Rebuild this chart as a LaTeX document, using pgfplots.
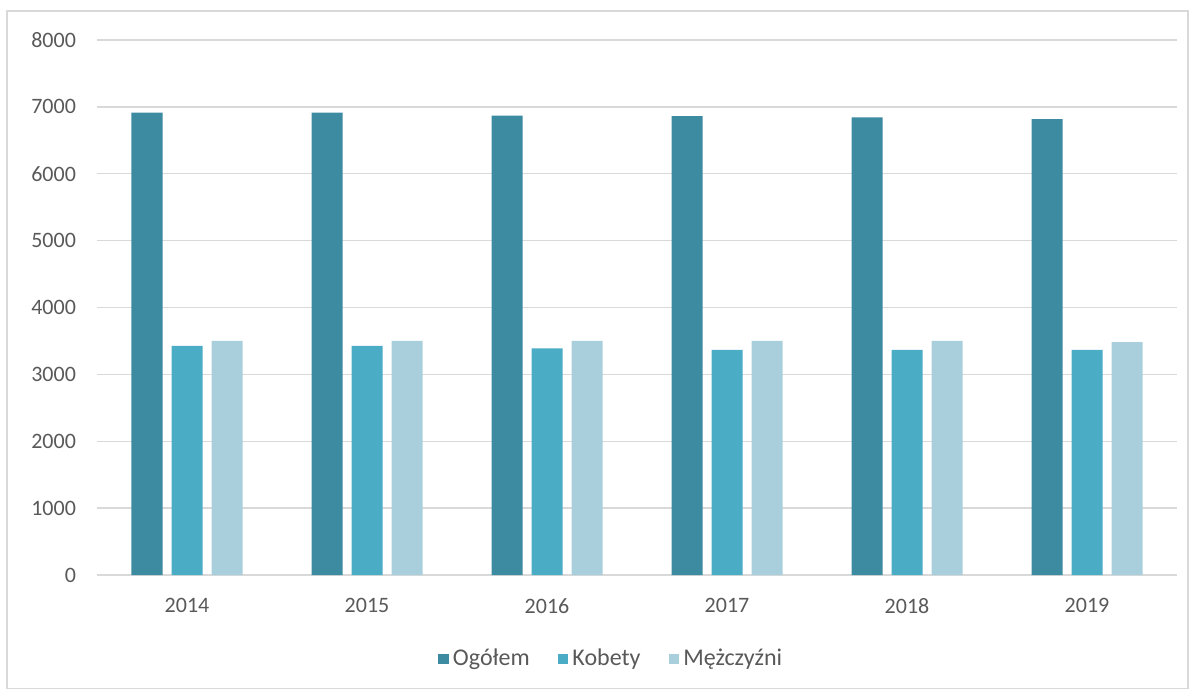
\documentclass[border=0pt]{standalone}
\usepackage{fontspec}
\setmainfont{Carlito}
\usepackage{pgfplots}
\pgfplotsset{compat=1.18}
\definecolor{cOg}{RGB}{60,139,161}
\definecolor{cKo}{RGB}{75,172,198}
\definecolor{cMe}{RGB}{169,207,220}
\definecolor{txt}{RGB}{89,89,89}
\definecolor{grd}{RGB}{217,217,217}
\begin{document}
\begin{tikzpicture}[x=1pt,y=1pt]
\path[use as bounding box] (0,0) rectangle (597.5,345.5);
\draw[grd, line width=0.8pt] (3.5,1.2) rectangle (594,340);
\begin{axis}[
  at={(48.5pt,58pt)}, anchor=south west,
  scale only axis, width=540pt, height=267.5pt,
  ybar=4.5pt, bar width=15.5pt,
  xmin=-0.5, xmax=5.5, ymin=0, ymax=8000,
  xtick=data, xticklabels={2014,2015,2016,2017,2018,2019},
  ytick={0,1000,...,8000},
  axis line style={draw=none}, tick style={draw=none},
  ymajorgrids, major grid style={grd, line width=0.7pt},
  font=\fontsize{11}{13}\selectfont, 
  ticklabel style={text=txt, font=\fontsize{11}{13}\selectfont},
  /pgf/number format/assume math mode=true,
  scaled y ticks=false,
  yticklabel style={/pgf/number format/1000 sep={}, xshift=-7pt},
  xticklabel style={yshift=-4pt},
  legend style={at={(0.477,-0.157)}, anchor=center, legend columns=3, draw=none,
    font=\fontsize{12}{14}\selectfont, text=txt,
    /tikz/every even column/.append style={column sep=12pt}},
  legend image code/.code={\fill[#1] (0pt,-2.7pt) rectangle (5.4pt,2.7pt);},
]
\addplot[fill=cOg, draw=none] coordinates {(0,6915) (1,6913) (2,6870) (3,6860) (4,6842) (5,6818)};
\addplot[fill=cKo, draw=none] coordinates {(0,3425) (1,3425) (2,3388) (3,3368) (4,3365) (5,3365)};
\addplot[fill=cMe, draw=none] coordinates {(0,3500) (1,3500) (2,3500) (3,3500) (4,3500) (5,3482)};
\legend{Ogółem, Kobety, Mężczyźni}
\end{axis}
\end{tikzpicture}
\end{document}
